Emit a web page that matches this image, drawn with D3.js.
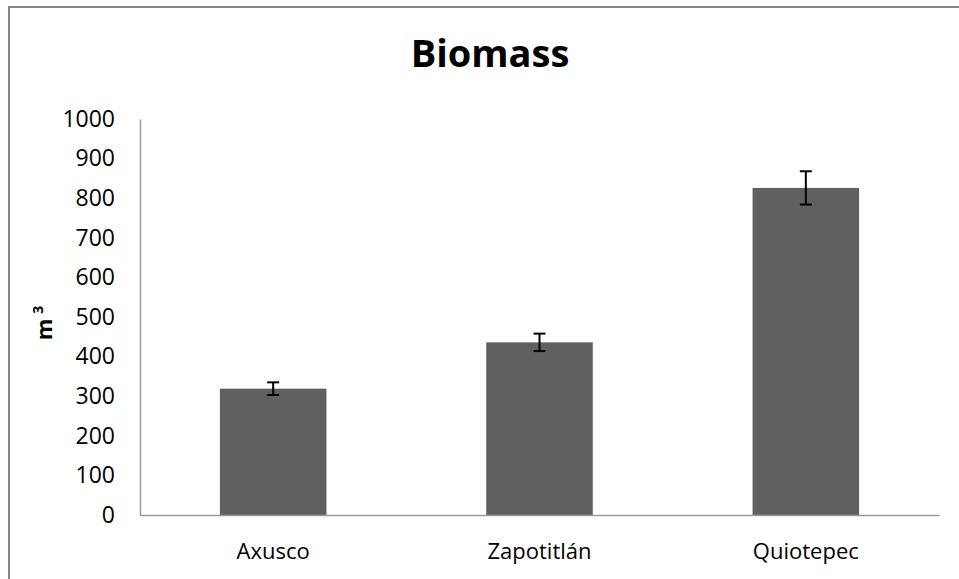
<!DOCTYPE html>
<html>
<head>
<meta charset="utf-8">
<script src="https://cdn.jsdelivr.net/npm/d3@7"></script>
<style>
  html, body { margin: 0; padding: 0; background: #fff; }
  svg { display: block; }
  text { font-family: "Open Sans", "Noto Sans", sans-serif; }
</style>
</head>
<body>
<svg id="chart" width="959" height="579"></svg>
<script>
const categories = ["Axusco", "Zapotitlán", "Quiotepec"];
const values = [319, 436, 826];
const errors = [16, 22, 42];
const yTicks = [0, 100, 200, 300, 400, 500, 600, 700, 800, 900, 1000];
const title = "Biomass";

const svg = d3.select("#chart");
const W = 959, H = 579;
const plot = { left: 140, right: 939, top: 119, bottom: 515 };

svg.append("rect").attr("x", 0).attr("y", 0).attr("width", W).attr("height", H).attr("fill", "#fff");
svg.append("rect")
  .attr("x", 9).attr("y", 7).attr("width", W + 10).attr("height", H + 10)
  .attr("fill", "none").attr("stroke", "#868686").attr("stroke-width", 2);

const x = d3.scaleBand().domain(categories).range([plot.left, plot.right])
  .paddingInner(0.6).paddingOuter(0.3);
const y = d3.scaleLinear().domain([0, 1000]).range([plot.bottom, plot.top]);

// bars
svg.append("g").selectAll("rect").data(categories).join("rect")
  .attr("x", d => x(d)).attr("width", x.bandwidth())
  .attr("y", (d, i) => y(values[i]))
  .attr("height", (d, i) => y(0) - y(values[i]))
  .attr("fill", "#606060");

// error bars
const eb = svg.append("g").attr("stroke", "#000").attr("stroke-width", 2);
categories.forEach((c, i) => {
  const cx = x(c) + x.bandwidth() / 2;
  eb.append("line").attr("x1", cx).attr("x2", cx)
    .attr("y1", y(values[i] + errors[i])).attr("y2", y(values[i] - errors[i]));
  [values[i] + errors[i], values[i] - errors[i]].forEach(v => {
    eb.append("line").attr("x1", cx - 6).attr("x2", cx + 6)
      .attr("y1", y(v)).attr("y2", y(v));
  });
});

// y axis
const yAxis = svg.append("g").attr("transform", `translate(${plot.left},0)`)
  .call(d3.axisLeft(y).tickValues(yTicks).tickSize(0).tickPadding(25).tickFormat(d3.format("d")));
yAxis.select(".domain").attr("stroke", "#9a9a9a").attr("stroke-width", 1.5);
yAxis.selectAll("text").attr("font-size", 23).attr("fill", "#000")
  .attr("font-family", "'Open Sans', sans-serif");

// x axis
const xAxis = svg.append("g").attr("transform", `translate(0,${plot.bottom})`)
  .call(d3.axisBottom(x).tickSize(0).tickPadding(28));
xAxis.select(".domain").attr("stroke", "#9a9a9a").attr("stroke-width", 1.5);
xAxis.selectAll("text").attr("font-size", 22).attr("fill", "#000")
  .attr("font-family", "'Open Sans', sans-serif");

// title
svg.append("text").attr("x", 490).attr("y", 67).attr("text-anchor", "middle")
  .attr("font-size", 38).attr("font-weight", "bold").attr("fill", "#000").text(title);

// y label
const yl = svg.append("text").attr("transform", "translate(52,323) rotate(-90)")
  .attr("text-anchor", "middle").attr("font-size", 22).attr("font-weight", "bold").attr("fill", "#000");
yl.append("tspan").text("m");
yl.append("tspan").attr("dx", 5).attr("dy", -9).attr("font-size", 14).text("3");
</script>
</body>
</html>
